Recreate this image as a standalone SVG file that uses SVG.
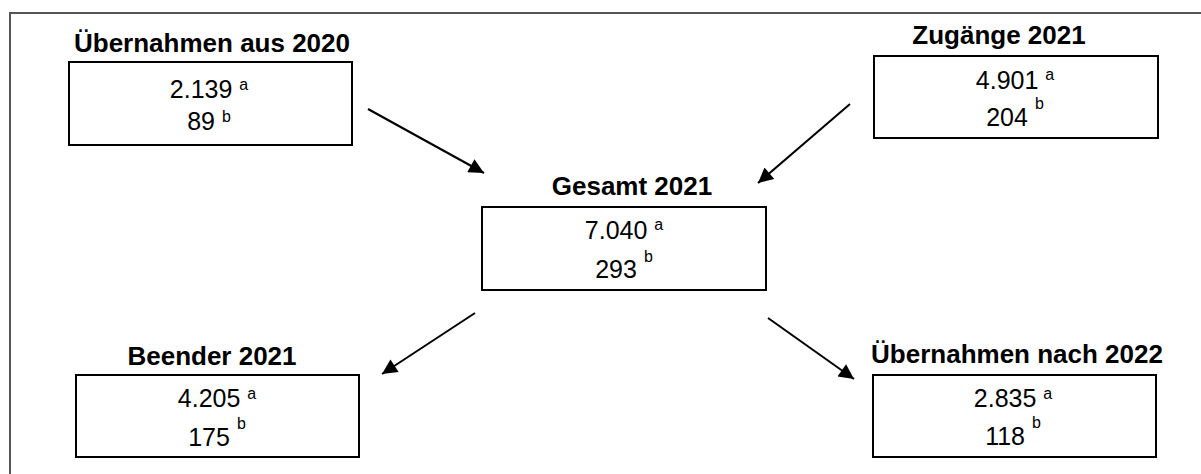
<svg xmlns="http://www.w3.org/2000/svg" width="1201" height="474" viewBox="0 0 1201 474">
<defs>
<style>
.box{fill:#fff;stroke:#000;stroke-width:2}
.title{font-family:"Liberation Sans",Arial,sans-serif;font-weight:bold;font-size:26px;fill:#000;text-anchor:middle}
.num{font-family:"Liberation Sans",Arial,sans-serif;font-size:25px;fill:#000;text-anchor:middle}
.sup{font-size:16px}
.conn{stroke:#000;stroke-width:2;fill:none;marker-end:url(#ah)}
.frame{stroke:#555;stroke-width:2;fill:none}
</style>
<marker id="ah" viewBox="0 0 10 10" refX="10" refY="5" markerWidth="9" markerHeight="7.5" markerUnits="strokeWidth" orient="auto">
<path d="M0,0 L10,5 L0,10 z" fill="#000"/>
</marker>
</defs>
<rect width="1201" height="474" fill="#fff"/>
<path class="frame" d="M10,474 L10,13 L1201,13"/>
<g id="connectors">
<line class="conn" x1="368" y1="109" x2="484" y2="173"/>
<line class="conn" x1="850" y1="104" x2="758" y2="183"/>
<line class="conn" x1="475" y1="313" x2="382" y2="374"/>
<line class="conn" x1="768" y1="318" x2="854" y2="379"/>
</g>
<g id="uebernahmen2020">
<text class="title" x="212" y="52">Übernahmen aus 2020</text>
<rect class="box" x="69" y="62" width="283" height="83"/>
<text class="num" x="209" y="98">2.139 <tspan class="sup" dy="-8">a</tspan></text>
<text class="num" x="209" y="130">89 <tspan class="sup" dy="-8">b</tspan></text>
</g>
<g id="zugaenge2021">
<text class="title" x="999" y="44">Zugänge 2021</text>
<rect class="box" x="874" y="56" width="284" height="82"/>
<text class="num" x="1015" y="89">4.901 <tspan class="sup" dy="-9">a</tspan></text>
<text class="num" x="1015" y="126">204 <tspan class="sup" dy="-17">b</tspan></text>
</g>
<g id="gesamt2021">
<text class="title" x="632" y="195">Gesamt 2021</text>
<rect class="box" x="482" y="207" width="284" height="83"/>
<text class="num" x="624" y="239">7.040 <tspan class="sup" dy="-9">a</tspan></text>
<text class="num" x="624" y="278">293 <tspan class="sup" dy="-16">b</tspan></text>
</g>
<g id="beender2021">
<text class="title" x="212" y="365">Beender 2021</text>
<rect class="box" x="76" y="375" width="283" height="82"/>
<text class="num" x="217" y="407">4.205 <tspan class="sup" dy="-8">a</tspan></text>
<text class="num" x="217" y="446">175 <tspan class="sup" dy="-17">b</tspan></text>
</g>
<g id="uebernahmen2022">
<text class="title" x="1017" y="363">Übernahmen nach 2022</text>
<rect class="box" x="873" y="375" width="283" height="82"/>
<text class="num" x="1013" y="407">2.835 <tspan class="sup" dy="-8">a</tspan></text>
<text class="num" x="1013" y="445">118 <tspan class="sup" dy="-17">b</tspan></text>
</g>
</svg>
